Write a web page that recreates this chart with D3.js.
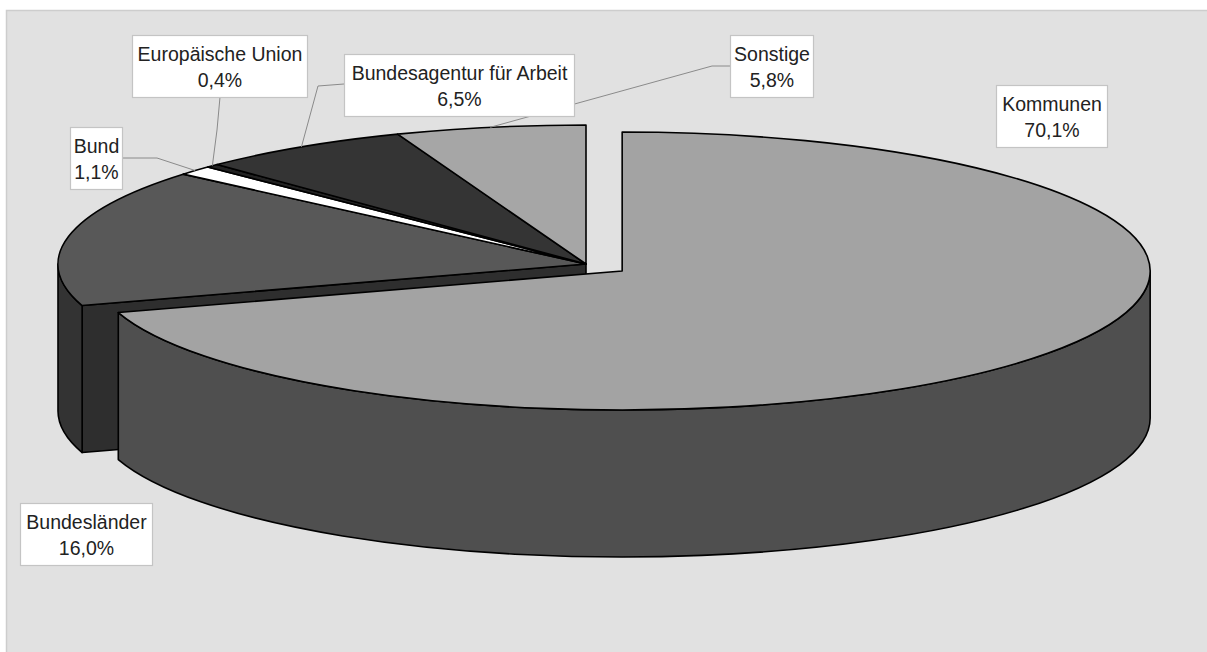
<!DOCTYPE html>
<html>
<head>
<meta charset="utf-8">
<script src="https://cdn.jsdelivr.net/npm/d3@7"></script>
<style>
  html, body { margin: 0; padding: 0; background: #ffffff; }
  svg { display: block; }
  text { font-family: "Liberation Sans", Arial, Helvetica, sans-serif; }
</style>
</head>
<body>
<svg id="chart" width="1207" height="652"></svg>
<script>
// Shares of funding by source (percent)
const categories = ["Kommunen", "Bundesländer", "Bund", "Europäische Union", "Bundesagentur für Arbeit", "Sonstige"];
const shares = [70.1, 16.0, 1.1, 0.4, 6.5, 5.8];
const topColors = ["#a3a3a3", "#585858", "#ffffff", "#222222", "#343434", "#a6a6a6"];
const sideColors = ["#4f4f4f", "#333333", "#dddddd", "#111111", "#222222", "#6a6a6a"];
const exploded = ["Kommunen"];

// Label boxes: left, top, width (layout)
const labelBoxes = {
  "Kommunen": [996, 85, 111],
  "Bundesländer": [20, 503, 132],
  "Bund": [70, 127, 52],
  "Europäische Union": [132, 35, 175],
  "Bundesagentur für Arbeit": [344, 54, 230],
  "Sonstige": [730, 35, 83]
};
// Leader line anchor points near the boxes (layout); last point comes from the slice
const leaderPaths = {
  "Bund": [[122, 158], [157, 158]],
  "Europäische Union": [[220, 97], [217, 130]],
  "Bundesagentur für Arbeit": [[344, 84], [318, 86]],
  "Sonstige": [[730, 66], [712, 66]]
};

const W = 1207, H = 652;
const svg = d3.select("#chart");

// Panel background
svg.append("rect").attr("x", 6.5).attr("y", 10.5).attr("width", W + 10).attr("height", H + 10)
  .attr("fill", "#e1e1e1").attr("stroke", "#cdcdcd").attr("stroke-width", 1.5);

// Pie geometry
const cx = 586, cy = 264, rx = 528, ry = 139, depth = 147, explodeK = 0.085;

const pie = d3.pie().sort(null).value(d => d.value).startAngle(0).endAngle(2 * Math.PI);
const data = categories.map((c, i) => ({ name: c, value: shares[i], top: topColors[i], side: sideColors[i] }));
const arcs = pie(data);

// d3 pie angle (0 at 12 o'clock, clockwise) -> ellipse parameter (screen)
const toT = a => a - Math.PI / 2;
function pt(t, ox, oy, dz) { return [ox + rx * Math.cos(t), oy + ry * Math.sin(t) + (dz || 0)]; }

arcs.forEach(a => {
  a.t0 = toT(a.startAngle);
  a.t1 = toT(a.endAngle);
  const mid = (a.startAngle + a.endAngle) / 2;
  const ex = exploded.includes(a.data.name) ? explodeK : 0;
  a.ox = cx + Math.sin(mid) * ex * rx;
  a.oy = cy - Math.cos(mid) * ex * ry;
});

function topPath(a) {
  const p = d3.path();
  const s = pt(a.t0, a.ox, a.oy), e = pt(a.t1, a.ox, a.oy);
  const large = (a.t1 - a.t0) > Math.PI ? 1 : 0;
  return `M${a.ox},${a.oy}L${s[0]},${s[1]}A${rx},${ry} 0 ${large} 1 ${e[0]},${e[1]}Z`;
}
function wallPath(a, t0, t1) {
  const s = pt(t0, a.ox, a.oy), e = pt(t1, a.ox, a.oy);
  const eb = pt(t1, a.ox, a.oy, depth), sb = pt(t0, a.ox, a.oy, depth);
  const large = (t1 - t0) > Math.PI ? 1 : 0;
  return `M${s[0]},${s[1]}A${rx},${ry} 0 ${large} 1 ${e[0]},${e[1]}L${eb[0]},${eb[1]}A${rx},${ry} 0 ${large} 0 ${sb[0]},${sb[1]}Z`;
}
function radialFace(a, t) {
  const e = pt(t, a.ox, a.oy);
  return `M${a.ox},${a.oy}L${e[0]},${e[1]}L${e[0]},${e[1] + depth}L${a.ox},${a.oy + depth}Z`;
}

const g = svg.append("g").attr("stroke", "#000").attr("stroke-width", 1.6).attr("stroke-linejoin", "round");

// Front-facing portion of an outer wall: parameter range within (0, PI)
function frontRange(a) {
  const lo = Math.max(a.t0, 0), hi = Math.min(a.t1, Math.PI);
  return hi > lo ? [lo, hi] : null;
}

// Back group first (non-exploded), then exploded slices in front
const back = arcs.filter(a => !exploded.includes(a.data.name));
const front = arcs.filter(a => exploded.includes(a.data.name));

// Start faces of back slices that face the viewer (angle in front half)
back.forEach(a => {
  if (Math.sin(a.t0) > 0 && Math.cos(a.t0) < 0) {
    g.append("path").attr("d", radialFace(a, a.t0)).attr("fill", "#2e2e2e");
  }
});
back.forEach(a => {
  const r = frontRange(a);
  if (r) g.append("path").attr("d", wallPath(a, r[0], r[1])).attr("fill", a.data.side);
});
back.forEach(a => {
  g.append("path").attr("d", topPath(a)).attr("fill", a.data.top);
});

front.forEach(a => {
  const r = frontRange(a);
  if (r) g.append("path").attr("d", wallPath(a, r[0], r[1])).attr("fill", a.data.side);
  g.append("path").attr("d", topPath(a)).attr("fill", a.data.top);
});

// Leader lines to the rim at each slice's middle
const leaders = svg.append("g").attr("fill", "none").attr("stroke", "#8a8a8a").attr("stroke-width", 1);
arcs.forEach(a => {
  const lp = leaderPaths[a.data.name];
  if (!lp) return;
  const tm = (a.t0 + a.t1) / 2;
  const end = pt(tm, a.ox, a.oy);
  leaders.append("path").attr("d", d3.line()(lp.concat([end])));
});

// Label boxes
const fmt = v => v.toFixed(1).replace(".", ",") + "%";
const labels = svg.append("g");
arcs.forEach(a => {
  const b = labelBoxes[a.data.name];
  const lg = labels.append("g");
  lg.append("rect").attr("x", b[0] + 0.5).attr("y", b[1] + 0.5).attr("width", b[2]).attr("height", 62)
    .attr("fill", "#ffffff").attr("stroke", "#c4c4c4").attr("stroke-width", 1.2);
  const tx = b[0] + b[2] / 2 + 0.5;
  lg.append("text").attr("x", tx).attr("y", b[1] + 26).attr("text-anchor", "middle")
    .attr("font-size", 19.5).attr("fill", "#222").text(a.data.name);
  lg.append("text").attr("x", tx).attr("y", b[1] + 52).attr("text-anchor", "middle")
    .attr("font-size", 19.5).attr("fill", "#222").text(fmt(a.data.value));
});
</script>
</body>
</html>
